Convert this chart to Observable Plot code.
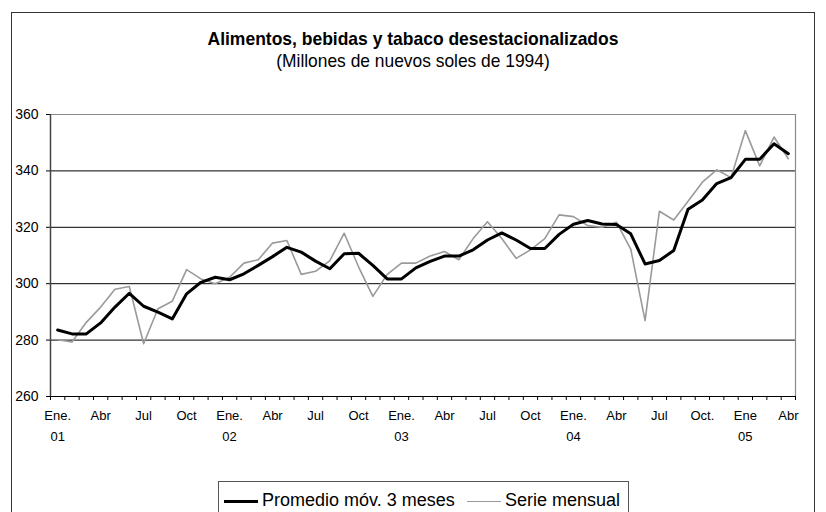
<!DOCTYPE html>
<html><head><meta charset="utf-8">
<script src="https://cdn.jsdelivr.net/npm/d3@7"></script>
<script src="https://cdn.jsdelivr.net/npm/@observablehq/plot@0.6"></script>
<style>
body{margin:0;background:#fff;font-family:Arial,"Liberation Sans",sans-serif;color:#000;}
#wrap{position:relative;width:826px;height:512px;overflow:hidden;}
#frame{position:absolute;left:11px;top:12px;width:804px;height:520px;border:1px solid #333;box-sizing:border-box;}
#title{position:absolute;left:0;width:826px;top:29px;text-align:center;font-weight:bold;font-size:19px;line-height:19px;transform:scaleX(0.92);transform-origin:413px 0;}
#subtitle{position:absolute;left:0;width:826px;top:51px;text-align:center;font-size:19px;line-height:19px;transform:scaleX(0.915);transform-origin:413px 0;}
#chart{position:absolute;left:0;top:0;}
#legend{position:absolute;left:218px;top:481px;width:411px;height:40px;border:1px solid #555;box-sizing:border-box;background:#fff;}
.item{position:absolute;top:8px;font-size:18px;line-height:20px;white-space:nowrap;}
.sw{display:inline-block;width:34px;vertical-align:middle;margin-right:4px;}
</style></head>
<body>
<div id="wrap">
<div id="chart"></div>
<div id="frame"></div>
<div id="title">Alimentos, bebidas y tabaco desestacionalizados</div>
<div id="subtitle">(Millones de nuevos soles de 1994)</div>
<div id="legend">
 <div class="item" style="left:5px"><span class="sw" style="border-top:3px solid #000"></span>Promedio móv. 3 meses</div>
 <div class="item" style="left:248px"><span class="sw" style="border-top:1.5px solid #999"></span>Serie mensual</div>
</div>
</div>
<script>
// Monthly series Jan 2001 .. Apr 2005
const serieMensual = [280.1, 279.3, 286.3, 291.7, 298, 299, 278.7, 291.1, 293.8, 305,
  301.7, 300, 302.3, 307.3, 308.5, 314.4, 315.3, 303.3, 304.4, 308.2,
  317.9, 306, 295.5, 303.3, 307.3, 307.3, 309.8, 311.4, 308.5, 316,
  322, 316, 309, 312, 316, 324.4, 323.8, 320.6, 320, 321.8,
  312.3, 286.9, 325.7, 322.6, 329.2, 336, 340.4, 337.6, 354.3, 341.8,
  352, 344.3];
const promedioMovil = [283.6, 282.2, 282.2, 286.1, 291.7, 296.6, 292.0, 289.9, 287.5, 296.4,
  300.5, 302.3, 301.4, 303.5, 306.5, 309.6, 312.9, 311.2, 308.0, 305.3,
  310.6, 310.8, 306.5, 301.7, 301.7, 305.6, 307.9, 309.8, 309.8, 312,
  315.5, 318, 315.5, 312.5, 312.5, 317.5, 321.1, 322.4, 321.2, 321.0,
  317.7, 307.0, 308.2, 311.8, 326.4, 329.7, 335.5, 337.6, 344.1, 344.1,
  349.6, 346.1];
const quarterLabels = ["Ene.","Abr","Jul","Oct","Ene.","Abr","Jul","Oct","Ene.","Abr","Jul","Oct","Ene.","Abr","Jul","Oct.","Ene","Abr"];
const yearLabels = ["01","02","03","04","05"];
const yTicks = [260, 280, 300, 320, 340, 360];
const gridValues = [280, 300, 320, 340];

const n = serieMensual.length;
const data = d3.range(n).map(i => ({i, serie: serieMensual[i], prom: promedioMovil[i]}));
const quarterPos = quarterLabels.map((_, k) => k * 3);
const yearPos = yearLabels.map((_, k) => k * 12);
const font = 'Arial, "Liberation Sans", sans-serif';

const chart = Plot.plot({
  width: 826, height: 512,
  marginLeft: 50, marginRight: 31, marginTop: 114, marginBottom: 116,
  x: {domain: [-0.5, n - 0.5], label: null},
  y: {domain: [260, 360], label: null},
  style: {fontFamily: font, fontSize: "13px", background: "transparent", color: "#000"},
  marks: [
    Plot.ruleY(gridValues, {stroke: "#000", strokeWidth: 1}),
    Plot.ruleY([360], {stroke: "#8a8a8a", strokeWidth: 1.2}),
    Plot.ruleX([n - 0.5], {stroke: "#8a8a8a", strokeWidth: 1.2}),
    Plot.axisY({ticks: yTicks, tickSize: 4, tickPadding: 8, fontSize: 14, stroke: "#000"}),
    Plot.axisX({ticks: d3.range(n + 1).map(k => k - 0.5), tickSize: 4, tickFormat: () => "", stroke: "#000"}),
    Plot.axisX({ticks: quarterPos, tickSize: 0, tickPadding: 14, fontSize: 13, tickFormat: (d) => quarterLabels[d / 3]}),
    Plot.axisX({ticks: yearPos, tickSize: 0, tickPadding: 35, fontSize: 13, tickFormat: (d) => yearLabels[d / 12]}),
    Plot.ruleX([-0.5], {stroke: "#444", strokeWidth: 1.5}),
    Plot.ruleY([260], {stroke: "#000", strokeWidth: 1.2}),
    Plot.line(data, {x: "i", y: "serie", stroke: "#9a9a9a", strokeWidth: 1.6}),
    Plot.line(data, {x: "i", y: "prom", stroke: "#000", strokeWidth: 3})
  ]
});
document.getElementById("chart").appendChild(chart);
</script>
</body></html>
